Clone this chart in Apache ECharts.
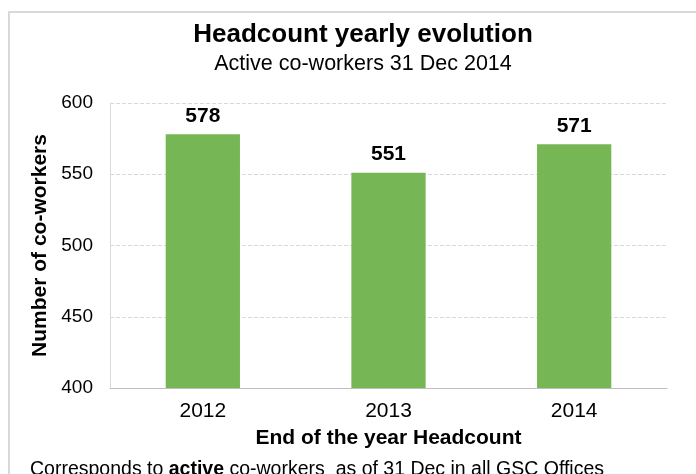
<!DOCTYPE html>
<html>
<head>
<meta charset="utf-8">
<script src="https://cdn.jsdelivr.net/npm/echarts@6/dist/echarts.min.js"></script>
<style>
    html, body { margin: 0; padding: 0; background: #fff; }
    #chart { width: 696px; height: 474px; }
</style>
</head>
<body>
<div id="chart"></div>
<script>
var years = ['2012', '2013', '2014'];
var headcount = [578, 551, 571];
var yTicks = { min: 400, max: 600, step: 50 };

var fontName = '"Liberation Sans", Arial, sans-serif';

/**
 * render headcount chart
 */
function setEchartHeadcount() {
    var myChart = echarts.init(document.getElementById('chart'));
    var option = {
        backgroundColor: '#fff',
        textStyle: { fontFamily: fontName, color: '#000' },
        title: [
            {
                text: 'Headcount yearly evolution',
                subtext: 'Active co-workers 31 Dec 2014',
                left: 358,
                textAlign: 'center',
                top: 17,
                itemGap: 5,
                textStyle: { fontFamily: fontName, fontSize: 26, fontWeight: 'bold', color: '#000' },
                subtextStyle: { fontFamily: fontName, fontSize: 21.5, color: '#000' }
            },
            {
                text: '{n|Corresponds to }{b|active}{n| co-workers  as of 31 Dec in all GSC Offices}',
                left: 25,
                top: 455,
                textStyle: {
                    fontWeight: 'normal',
                    rich: {
                        n: { fontFamily: fontName, fontSize: 19.5, fontWeight: 'normal', color: '#000' },
                        b: { fontFamily: fontName, fontSize: 19.5, fontWeight: 'bold', color: '#000' }
                    }
                }
            }
        ],
        graphic: [{
            type: 'rect',
            shape: { x: 9, y: 12, width: 700, height: 500 },
            style: { fill: 'none', stroke: '#d9d9d9', lineWidth: 2 },
            silent: true
        }],
        grid: {
            left: 110,
            right: 29,
            top: 103,
            bottom: 86
        },
        xAxis: {
            type: 'category',
            data: years,
            name: 'End of the year Headcount',
            nameLocation: 'middle',
            nameGap: 40,
            nameTextStyle: { fontSize: 21, fontWeight: 'bold', color: '#000' },
            axisLine: { lineStyle: { color: '#bfbfbf', width: 1 } },
            axisTick: { show: false },
            axisLabel: { fontSize: 21, color: '#000', margin: 13 }
        },
        yAxis: {
            type: 'value',
            min: yTicks.min,
            max: yTicks.max,
            interval: yTicks.step,
            name: 'Number of co-workers',
            nameLocation: 'middle',
            nameGap: 48,
            nameTextStyle: { fontSize: 21, fontWeight: 'bold', color: '#000' },
            axisLine: { show: true, lineStyle: { color: '#d9d9d9' } },
            axisTick: { show: false },
            splitLine: { lineStyle: { color: '#d9d9d9', type: 'dashed' } },
            axisLabel: { fontSize: 19, color: '#000', margin: 17 }
        },
        series: [{
            type: 'bar',
            data: headcount,
            barWidth: '40%',
            itemStyle: { color: '#77b655' },
            label: {
                show: true,
                position: 'top',
                distance: 8,
                fontSize: 21,
                fontWeight: 'bold',
                color: '#000'
            }
        }]
    };
    myChart.setOption(option);
}

setEchartHeadcount();
</script>
</body>
</html>
